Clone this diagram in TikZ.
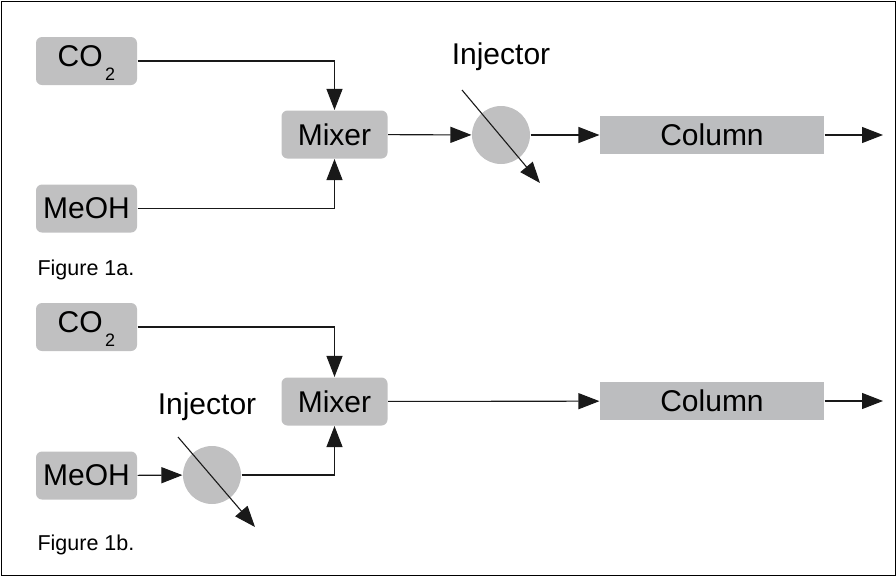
\documentclass[tikz,border=0pt]{standalone}
\usepackage{fontspec}
\setmainfont{Liberation Sans}
\usetikzlibrary{arrows.meta}
\definecolor{boxgray}{RGB}{192,192,193}
\definecolor{colgray}{RGB}{188,189,191}
\tikzstyle{stage}=[rounded corners=6pt, fill=boxgray, inner sep=0pt, minimum width=101pt, minimum height=48pt, font=\fontsize{30}{30}\selectfont]
\tikzstyle{column}=[fill=colgray, inner sep=0pt, minimum width=224pt, minimum height=38pt, font=\fontsize{30}{30}\selectfont]
\tikzstyle{valve}=[circle, fill=boxgray, inner sep=0pt, minimum size=58pt]
\tikzstyle{caption}=[anchor=west, inner sep=0pt, font=\fontsize{21.5}{21.5}\selectfont]
\tikzstyle{tag}=[inner sep=0pt, font=\fontsize{30}{30}\selectfont]
\newcommand{\stage}{\node[stage]}
\newcommand{\cotwo}{CO\kern2.5pt\raisebox{-14pt}[0pt][10pt]{\fontsize{18}{18}\selectfont 2}}

\begin{document}
\begin{tikzpicture}[x=1pt, y=-1pt, line width=1.1pt
    ,every edge/.style={draw, black!90, -{Triangle[length=21pt,width=16pt]}}
    ,elbow/.style={to path={-| (\tikztotarget)}}
]
\useasboundingbox (0,0) rectangle (896,576);
\draw[line width=1pt] (1,1) rectangle (895,575);

% figure 1a
\stage (co2a) at (86.5,61) {\cotwo};
\stage (meoha) at (86.5,208.5) {MeOH};
\stage[minimum width=106pt] (mixa) at (334.5,134.5) {Mixer};
\node[valve] (inja) at (501,135) {};
\node[tag] (injlabela) at (501,57) {Injector};
\node[column] (cola) at (712,135) {Column};
\coordinate (outa) at (883,135);
\coordinate (ina) at (462,90);
\coordinate (wastea) at (540,183);
\node[caption] (capa) at (37,270) {Figure 1a.};
\path
(co2a) edge[elbow] (mixa)
(meoha) edge[elbow] (mixa)
(mixa) edge (inja)
(inja) edge (cola)
(cola) edge (outa)
(ina) edge (wastea)
;

% figure 1b
\stage (co2b) at (86.5,327) {\cotwo};
\stage (meohb) at (86.5,475.5) {MeOH};
\stage[minimum width=106pt] (mixb) at (334.5,401.5) {Mixer};
\node[valve] (injb) at (212,475) {};
\node[tag] (injlabelb) at (207,407) {Injector};
\node[column] (colb) at (712,401) {Column};
\coordinate (outb) at (883,401);
\coordinate (inb) at (178,437);
\coordinate (wasteb) at (255,527);
\node[caption] (capb) at (37,545) {Figure 1b.};
\path
(co2b) edge[elbow] (mixb)
(meohb) edge (injb)
(injb) edge[elbow] (mixb)
(mixb) edge (colb)
(colb) edge (outb)
(inb) edge (wasteb)
;
\end{tikzpicture}
\end{document}
